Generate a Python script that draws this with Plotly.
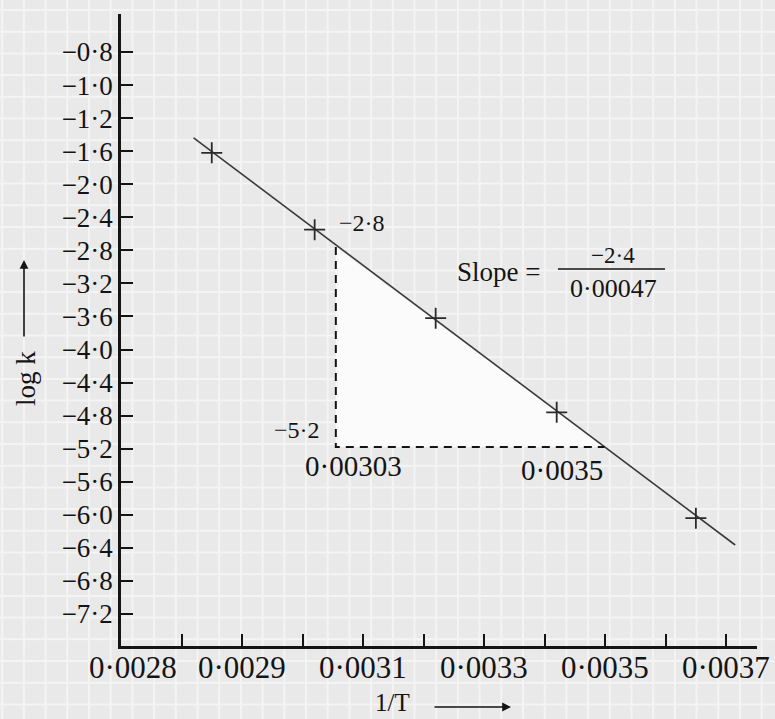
import plotly.graph_objects as go

# ---------------- data ----------------
inv_T = [0.00285, 0.00302, 0.00322, 0.00342, 0.00365]
log_k = [-1.62, -2.55, -3.62, -4.76, -6.04]

fit_x = [0.00282, 0.003715]
fit_y = [-1.44, -6.365]

# slope-construction triangle (corner values)
tri_x = [0.003055, 0.003055, 0.003499]
tri_y = [-2.76, -5.18, -5.18]

# y ticks (as printed on the original, evenly spaced)
y_tickvals = [-0.4, -0.8, -1.2, -1.6, -2.0, -2.4, -2.8, -3.2, -3.6, -4.0,
              -4.4, -4.8, -5.2, -5.6, -6.0, -6.4, -6.8, -7.2]
y_ticktext = ["−0·8", "−1·0", "−1·2", "−1·6", "−2·0", "−2·4", "−2·8", "−3·2", "−3·6",
              "−4·0", "−4·4", "−4·8", "−5·2", "−5·6", "−6·0", "−6·4", "−6·8", "−7·2"]

# x tick marks and x tick labels (as printed on the original)
x_tickvals = [0.0028, 0.0029, 0.0030, 0.0031, 0.0032, 0.0033, 0.0034, 0.0035, 0.0036, 0.0037]
x_labelvals = [0.00272, 0.0029, 0.0031, 0.0033, 0.0035, 0.0037]
x_labeltext = ["0·0028", "0·0029", "0·0031", "0·0033", "0·0035", "0·0037"]

W, H = 775, 719
FONT = "Liberation Serif"
INK = "#141414"


def px(x, y):
    return x / W, 1 - y / H


fig = go.Figure()

# white interior of the slope triangle
fig.add_trace(go.Scatter(x=tri_x + [tri_x[0]], y=tri_y + [tri_y[0]], mode="lines",
                         fill="toself", fillcolor="#fbfbfb", line=dict(width=0),
                         hoverinfo="skip", showlegend=False))

# best-fit line
fig.add_trace(go.Scatter(x=fit_x, y=fit_y, mode="lines",
                         line=dict(color="#3a3a3a", width=1.6), showlegend=False))

# dashed construction lines
fig.add_trace(go.Scatter(x=[tri_x[0], tri_x[1], tri_x[2]], y=[tri_y[0], tri_y[1], tri_y[2]],
                         mode="lines", line=dict(color=INK, width=2, dash="8px,6px"),
                         showlegend=False))

# data points
fig.add_trace(go.Scatter(x=inv_T, y=log_k, mode="markers",
                         marker=dict(symbol="cross-thin", size=15,
                                     line=dict(color="#2a2a2a", width=1.8)),
                         showlegend=False))

# background graph-paper grid
shapes = []
gx = 2.2
while gx < W:
    shapes.append(dict(type="line", xref="paper", yref="paper", x0=gx / W, x1=gx / W, y0=0, y1=1,
                       line=dict(color="#f4f4f4", width=2), layer="below"))
    gx += 21.7
gy = 10.0
while gy < H:
    shapes.append(dict(type="line", xref="paper", yref="paper", x0=0, x1=1,
                       y0=1 - gy / H, y1=1 - gy / H,
                       line=dict(color="#f4f4f4", width=2), layer="below"))
    gy += 21.7

# fraction bar of slope expression
x0, y0 = px(558, 269)
x1, _ = px(665, 269)
shapes.append(dict(type="line", xref="paper", yref="paper", x0=x0, x1=x1, y0=y0, y1=y0,
                   line=dict(color=INK, width=1.6)))

annotations = []


def text(x, y, s, size, **kw):
    xp, yp = px(x, y)
    annotations.append(dict(x=xp, y=yp, xref="paper", yref="paper", text=s, showarrow=False,
                            font=dict(family=FONT, size=size, color=INK), borderpad=0,
                            xanchor=kw.get("xanchor", "center"), yanchor="middle",
                            textangle=kw.get("textangle", 0)))


# x tick labels placed on the x data scale
for v, t in zip(x_labelvals, x_labeltext):
    annotations.append(dict(x=v, y=1 - 667 / H, xref="x", yref="paper", text=t, showarrow=False,
                            font=dict(family=FONT, size=31, color=INK), borderpad=0,
                            xanchor="center", yanchor="middle"))

text(362, 223, "−2·8", 24)
text(297, 430, "−5·2", 24)
text(353, 466, "0·00303", 29)
text(562, 470, "0·0035", 29)
text(498, 272, "Slope =", 27)
text(613, 256, "−2·4", 23)
text(613, 288, "0·00047", 26)
text(392, 702, "1/T", 25)
text(26, 379, "log k", 27, textangle=-90)

# arrows next to the axis titles
hx, hy = px(24, 260)
annotations.append(dict(x=hx, y=hy, xref="paper", yref="paper", text="", showarrow=True,
                        ax=0, ay=78, arrowhead=2, arrowsize=1.1, arrowwidth=1.6,
                        arrowcolor=INK))
hx, hy = px(511, 707)
annotations.append(dict(x=hx, y=hy, xref="paper", yref="paper", text="", showarrow=True,
                        ax=-78, ay=0, arrowhead=2, arrowsize=1.1, arrowwidth=1.6,
                        arrowcolor=INK))

fig.update_layout(
    width=W, height=H,
    margin=dict(l=0, r=0, t=0, b=0),
    paper_bgcolor="#e9e9e9",
    plot_bgcolor="rgba(0,0,0,0)",
    shapes=shapes,
    annotations=annotations,
    xaxis=dict(domain=[121 / W, 757 / W], range=[0.0027, 0.003751],
               tickmode="array", tickvals=x_tickvals, showticklabels=False,
               ticks="inside", ticklen=12, tickwidth=2, tickcolor=INK,
               showline=True, linecolor=INK, linewidth=2.5,
               showgrid=False, zeroline=False, automargin=False),
    yaxis=dict(domain=[1 - 646 / H, 1 - 14 / H], range=[-7.587, 0.06],
               tickmode="array", tickvals=y_tickvals, ticktext=y_ticktext,
               ticks="inside", ticklen=12, tickwidth=2, tickcolor=INK,
               showline=True, linecolor=INK, linewidth=2.5,
               showgrid=False, zeroline=False, automargin=False,
               tickfont=dict(family=FONT, size=27, color=INK)),
)

fig.write_html("out.html", config={"displayModeBar": False},
               post_script="document.body.style.margin='0';document.body.style.overflow='hidden';")
